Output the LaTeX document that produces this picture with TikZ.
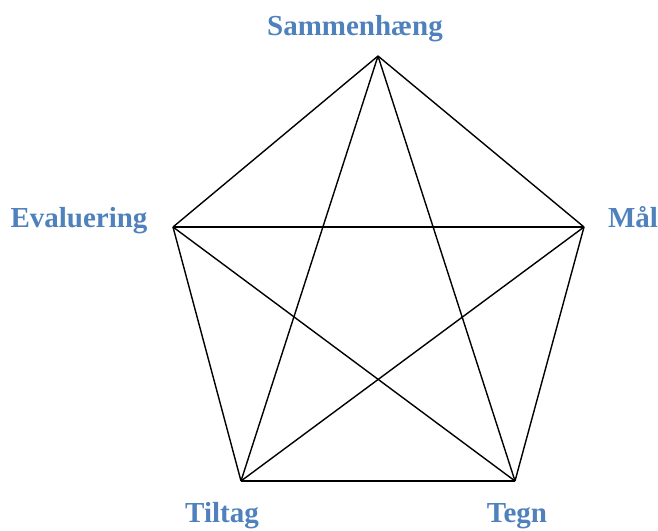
\documentclass[tikz,border=0pt]{standalone}
\usepackage{fontspec}
\setmainfont{Liberation Serif}
\usetikzlibrary{positioning}
\definecolor{labelblue}{RGB}{79,129,189}
\tikzset{
  edge/.style={
    draw=black,
    line width=1.4pt
  },
  vertexlabel/.style={
    text=labelblue,
    font=\fontsize{29}{32}\selectfont\bfseries,
    inner sep=0pt,
    anchor=base
  }
}

\begin{document}
\begin{tikzpicture}[x=1pt,y=-1pt]
    \useasboundingbox (0,0) rectangle (658,530);
    % corners of the pentagon
    \coordinate (S) at (378,56);
    \coordinate (M) at (584,227);
    \coordinate (Te) at (515,481);
    \coordinate (Ti) at (241,481);
    \coordinate (E) at (173,227);
    % sides and diagonals
    \foreach \a/\b in {S/M,M/Te,Te/Ti,Ti/E,E/S,S/Te,S/Ti,M/Ti,M/E,E/Te}
        \draw[edge] (\a) -- (\b);
    % labels
    \node[vertexlabel] (sammen) at (355,35) {Sammenhæng};
    \node[vertexlabel] (maal) at (633,227) {Mål};
    \node[vertexlabel] (evaluering) at (79,227) {Evaluering};
    \node[vertexlabel] (tiltag) at (222,522) {Tiltag};
    \node[vertexlabel] (tegn) at (517,522) {Tegn};
\end{tikzpicture}
\end{document}
